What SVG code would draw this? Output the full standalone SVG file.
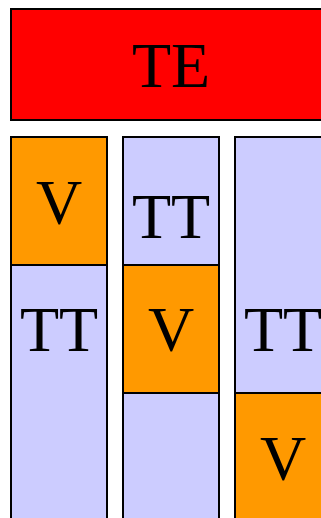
<svg xmlns="http://www.w3.org/2000/svg" width="321" height="518" viewBox="0 0 321 518">
<style>
.box{stroke:#000;stroke-width:2}
.te{fill:#ff0000}
.v{fill:#ff9900}
.tt{fill:#ccccff}
text{font-family:"Liberation Serif","Times New Roman",serif;font-size:64px;text-anchor:middle;fill:#000}
</style>
<rect width="321" height="518" fill="#fff"/>
<g id="connectors"/>
<g id="TE"><rect class="box te" x="11" y="9" width="320" height="111"/><text x="171" y="87">TE</text></g>
<g id="col1">
<g id="col1-TT"><rect class="box tt" x="11" y="137" width="96" height="390"/><text x="59" y="351">TT</text></g>
<g id="col1-V"><rect class="box v" x="11" y="137" width="96" height="128"/><text x="59" y="224">V</text></g>
</g>
<g id="col2">
<g id="col2-TT"><rect class="box tt" x="123" y="137" width="96" height="390"/><text x="171" y="238">TT</text></g>
<g id="col2-V"><rect class="box v" x="123" y="265" width="96" height="128"/><text x="171" y="351">V</text></g>
</g>
<g id="col3">
<g id="col3-TT"><rect class="box tt" x="235" y="137" width="96" height="390"/><text x="283" y="351">TT</text></g>
<g id="col3-V"><rect class="box v" x="235" y="393" width="96" height="134"/><text x="283" y="480">V</text></g>
</g>
</svg>
